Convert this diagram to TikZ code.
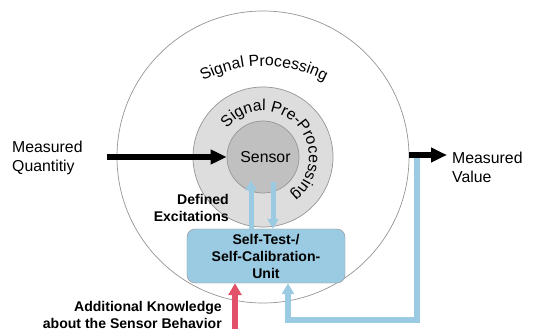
\documentclass[tikz,border=0pt]{standalone}
\usepackage{fontspec}
\setmainfont{Liberation Sans}
\usetikzlibrary{arrows.meta,decorations.text}
\definecolor{unitblue}{RGB}{155,203,226}
\definecolor{knowred}{RGB}{226,80,105}
\definecolor{ringgray}{RGB}{221,221,221}
\definecolor{sensgray}{RGB}{192,192,192}
\definecolor{edgegray}{RGB}{150,150,150}
\newcommand{\arcfont}{\fontsize{13.5pt}{16pt}\selectfont}

\begin{document}
\begin{tikzpicture}[x=0.03cm,y=0.03cm,
	every node/.style={inner sep=0pt,font=\arcfont},
	disc/.style={circle,draw=edgegray,line width=0.6pt},
	boldtext/.style={font=\fontsize{12pt}{14.5pt}\selectfont\bfseries},
	blackarrow/.style={line width=0.18cm,-{Triangle[length=0.48cm,width=0.42cm]}},
	bluearrow/.style={unitblue,line width=0.15cm,-{Triangle[length=0.3cm,width=0.33cm]}},
	redarrow/.style={knowred,line width=0.18cm,-{Triangle[length=0.36cm,width=0.39cm]}}]
	\useasboundingbox (0,0) rectangle (546,329);

	\node[disc,fill=white,minimum size=8.76cm] (proc) at (263,172) {};
	\node[disc,fill=ringgray,minimum size=4.2cm] (pre) at (263,172) {};
	\node[disc,fill=sensgray,minimum size=2.16cm] (sensor) at (263,172) {\hspace{0.15cm}Sensor};

	\path[decorate,decoration={text along path,text align=center,text={|\arcfont|Signal Processing}}]
	(264,133) ++(150:130) arc[start angle=150,end angle=30,radius=130];
	\path[decorate,decoration={text along path,text align=center,text={|\arcfont|Signal Pre-Processing}}]
	(263,172) ++(145:46) arc[start angle=145,end angle=-57,radius=46];

	\node[draw=edgegray,fill=unitblue,rounded corners=0.24cm,minimum width=4.74cm,minimum height=1.62cm,align=center,boldtext] (unit) at (266,73) {Self-Test-/\\Self-Calibration-\\Unit};

	\node[anchor=west,align=left] (mq) at (12,171) {Measured\\Quantitiy};
	\node[anchor=west,align=left] (mv) at (452,162) {Measured\\Value};
	\node[anchor=east,align=right,boldtext] (exc) at (229,121) {Defined\\Excitations};
	\node[anchor=east,align=right,boldtext] (know) at (222,14) {Additional Knowledge\\about the Sensor Behavior};

	\coordinate (mqend) at (107,172);
	\coordinate (mvend) at (447,174);
	\coordinate (fbtop) at (417,174);
	\coordinate (fbbot) at (417,9);
	\coordinate (fbin) at (288,9);
	\coordinate (knowbase) at (235,0);

	% sensor <-> self-test unit
	\draw[bluearrow] ([xshift=-0.45cm]unit.north) -- ([xshift=-0.45cm,yshift=0.39cm]unit.north |- sensor.south);
	\draw[bluearrow] ([xshift=0.21cm,yshift=0.33cm]unit.north |- sensor.south) -- ([xshift=0.21cm]unit.north);

	% feedback of the measured value
	\draw[bluearrow,line width=0.18cm,-{Triangle[length=0.33cm,width=0.36cm]}] (fbtop) -- (fbbot) -- (fbin) -- (fbin |- unit.south);
	\draw[redarrow] (knowbase) -- (knowbase |- unit.south);

	\draw[blackarrow] (mqend) -- (sensor.west);
	\draw[blackarrow] (proc.east |- mvend) -- (mvend);
\end{tikzpicture}
\end{document}
